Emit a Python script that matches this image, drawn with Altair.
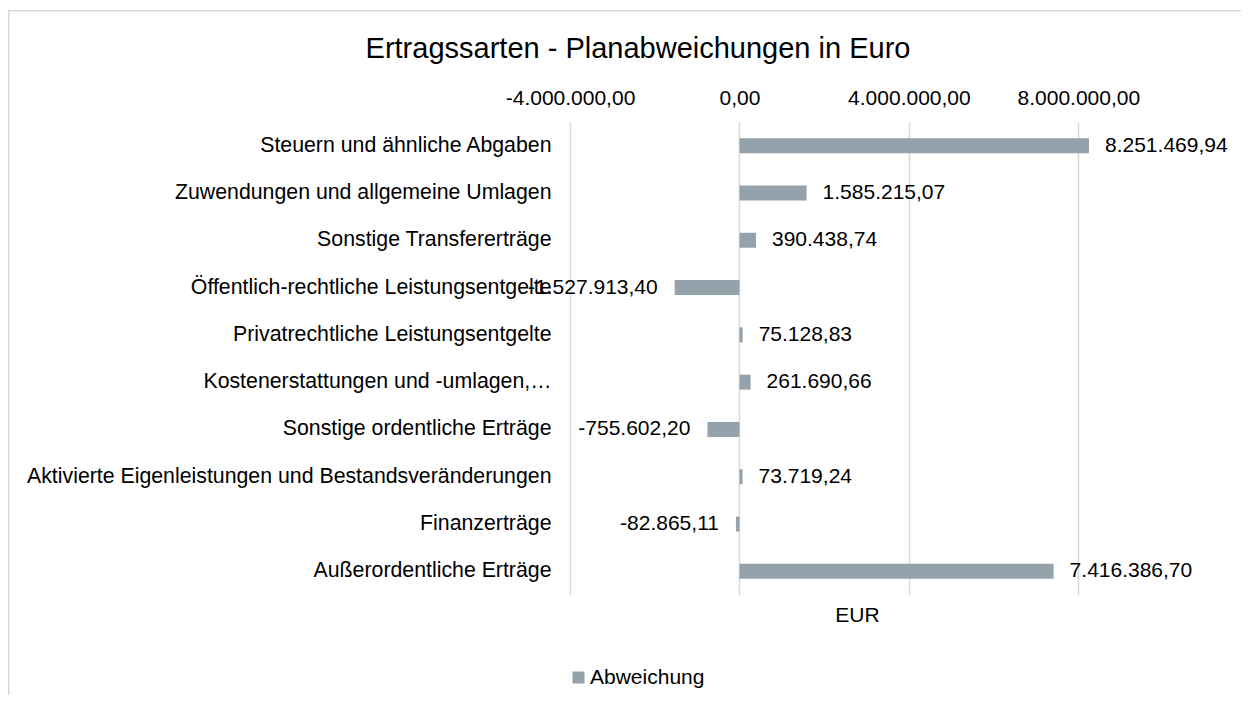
import altair as alt
import pandas as pd

# ---- data ----
categories = [
    "Steuern und ähnliche Abgaben",
    "Zuwendungen und allgemeine Umlagen",
    "Sonstige Transfererträge",
    "Öffentlich-rechtliche Leistungsentgelte",
    "Privatrechtliche Leistungsentgelte",
    "Kostenerstattungen und -umlagen,…",
    "Sonstige ordentliche Erträge",
    "Aktivierte Eigenleistungen und Bestandsveränderungen",
    "Finanzerträge",
    "Außerordentliche Erträge",
]
values = [
    8251469.94,
    1585215.07,
    390438.74,
    -1527913.40,
    75128.83,
    261690.66,
    -755602.20,
    73719.24,
    -82865.11,
    7416386.70,
]
series_name = "Abweichung"
x_ticks = [-4000000, 0, 4000000, 8000000]
x_domain = [-4000000, 9550000]
chart_title = "Ertragssarten - Planabweichungen in Euro"
axis_title = "EUR"

df = pd.DataFrame({"Kategorie": categories, "Wert": values, "Serie": [series_name] * len(values)})
frame_df = pd.DataFrame({"f": [0]})

FONT = "Liberation Sans"
BAR = "#94a3ab"
GRID = "#d9d9d9"
TXT = "#000000"
FS = 21

x_scale = alt.Scale(domain=x_domain, nice=False)
y_enc = alt.Y(
    "Kategorie:N",
    sort=categories,
    scale=alt.Scale(paddingInner=0, paddingOuter=0),
    axis=alt.Axis(
        title=None, domain=False, ticks=False, grid=False,
        labelFontSize=21.3, labelFont=FONT, labelColor=TXT,
        labelPadding=19, labelLimit=800,
    ),
)
top_axis = alt.Axis(
    orient="top", values=x_ticks, format=",.2f", title=None,
    domain=False, ticks=False, grid=True, gridColor=GRID, gridWidth=1.5,
    labelFontSize=FS, labelFont=FONT, labelColor=TXT, labelPadding=14,
    labelFlush=False, labelOverlap=False,
)
bottom_axis = alt.Axis(
    orient="bottom", labels=False, ticks=False, domain=False, grid=False,
    title=axis_title, titleFont=FONT, titleFontSize=FS, titleFontWeight="normal",
    titleColor=TXT, titlePadding=9,
)

frame = alt.Chart(frame_df).mark_rect(filled=False, stroke=GRID, strokeWidth=1.5).encode(
    x=alt.value(-561.25), x2=alt.value(698), y=alt.value(-111.25), y2=alt.value(720)
)

bars = alt.Chart(df).mark_bar(size=15).encode(
    x=alt.X("Wert:Q", scale=x_scale, axis=top_axis),
    y=y_enc,
    color=alt.Color(
        "Serie:N",
        scale=alt.Scale(range=[BAR]),
        legend=alt.Legend(
            orient="none", legendX=-2, legendY=545, title=None,
            symbolType="square", symbolSize=144, symbolStrokeWidth=0,
            labelFontSize=FS, labelFont=FONT, labelColor=TXT, labelOffset=1,
        ),
    ),
)

pos_labels = alt.Chart(df).transform_filter("datum.Wert >= 0").mark_text(
    align="left", baseline="middle", dx=16, fontSize=FS, font=FONT, color=TXT
).encode(
    x=alt.X("Wert:Q", scale=x_scale, axis=bottom_axis),
    y=y_enc,
    text=alt.Text("Wert:Q", format=",.2f"),
)

neg_labels = alt.Chart(df).transform_filter("datum.Wert < 0").mark_text(
    align="right", baseline="middle", dx=-17, fontSize=FS, font=FONT, color=TXT
).encode(
    x=alt.X("Wert:Q", scale=x_scale, axis=None),
    y=y_enc,
    text=alt.Text("Wert:Q", format=",.2f"),
)

chart = (
    alt.layer(frame, bars, pos_labels, neg_labels)
    .resolve_axis(x="independent")
    .properties(
        width=574,
        height=473,
        autosize="none",
        padding={"left": 562, "top": 114, "right": 97, "bottom": 100},
        title=alt.Title(
            chart_title, fontSize=29, font=FONT, fontWeight="normal",
            color=TXT, anchor="middle", offset=-54, dx=-219,
        ),
        background="white",
    )
    .configure(
        locale={
            "number": {
                "decimal": ",",
                "thousands": ".",
                "grouping": [3],
                "currency": ["", " €"],
                "minus": "-",
            }
        }
    )
    .configure_view(stroke="transparent")
)

chart.save("out.html", embed_options={"renderer": "svg", "actions": False})
